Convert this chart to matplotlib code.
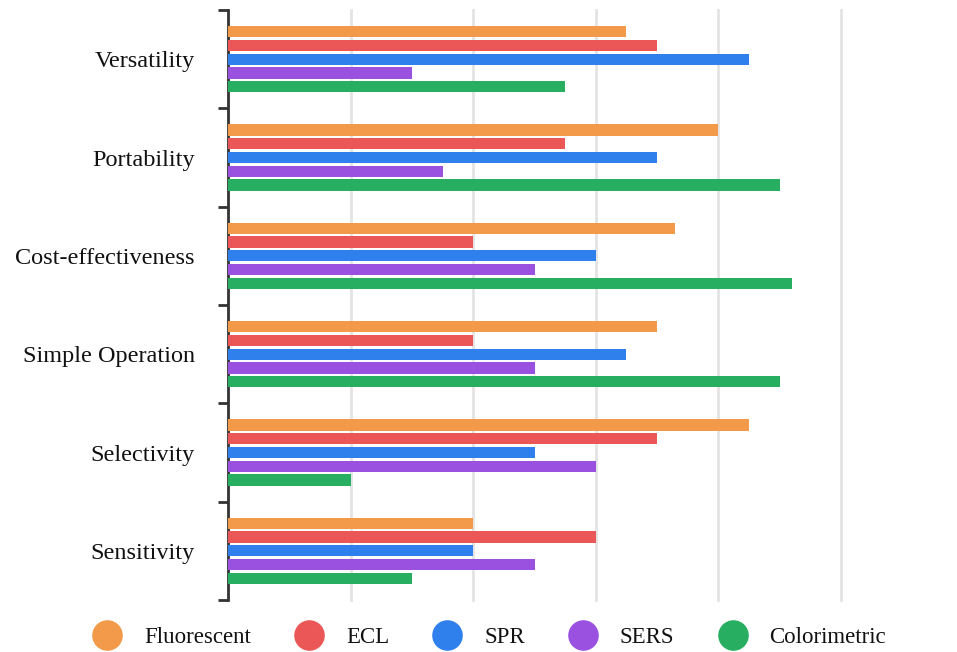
import matplotlib
matplotlib.use("Agg")
import matplotlib.pyplot as plt
import numpy as np
from matplotlib.lines import Line2D

categories = ["Versatility", "Portability", "Cost-effectiveness",
              "Simple Operation", "Selectivity", "Sensitivity"]
methods = ["Fluorescent", "ECL", "SPR", "SERS", "Colorimetric"]

fluorescent = [3.25, 4.0, 3.65, 3.5, 4.25, 2.0]
ecl = [3.5, 2.75, 2.0, 2.0, 3.5, 3.0]
spr = [4.25, 3.5, 3.0, 3.25, 2.5, 2.0]
sers = [1.5, 1.75, 2.5, 2.5, 3.0, 2.5]
colorimetric = [2.75, 4.5, 4.6, 4.5, 1.0, 1.5]

colors = ["#F2994A", "#EB5757", "#2F80ED", "#9B51E0", "#27AE60"]

plt.rcParams["font.family"] = ["Liberation Serif", "DejaVu Serif"]

fig = plt.figure(figsize=(9.57, 6.52), dpi=100)
ax = fig.add_axes([228 / 957, 52 / 652, (841 - 228) / 957, 590 / 652])

series = [fluorescent, ecl, spr, sers, colorimetric]
y = np.arange(len(categories))
slot = 0.7 / len(series)
for i, (vals, c) in enumerate(zip(series, colors)):
    off = -0.35 + slot * (i + 0.5)
    ax.barh(y + off, vals, height=slot * 0.82, color=c, zorder=3)

ax.set_xlim(0, 5)
ax.set_ylim(len(categories) - 0.5, -0.5)
ax.set_xticks([1, 2, 3, 4, 5])
ax.tick_params(axis="x", length=0, labelbottom=False)
ax.grid(axis="x", color="#e3e3e3", linewidth=2, zorder=0)
for gl in ax.get_xgridlines():
    gl.set_clip_on(False)

ax.set_yticks(y)
ax.set_yticklabels(categories, fontsize=17.5, color="#111111")
ax.tick_params(axis="y", which="major", length=0, pad=24)
ax.set_yticks(np.arange(-0.5, len(categories)), minor=True)
ax.tick_params(axis="y", which="minor", length=7, width=2, color="#333333")

for s in ["top", "right", "bottom"]:
    ax.spines[s].set_visible(False)
ax.spines["left"].set_linewidth(2)
ax.spines["left"].set_color("#333333")

handles = [Line2D([], [], marker="o", linestyle="", markersize=21,
                  markerfacecolor=c, markeredgecolor=c) for c in colors]
fig.legend(handles, methods, loc="lower center", bbox_to_anchor=(0.507, -0.026),
           ncol=5, frameon=False, fontsize=16.5, handletextpad=0.6,
           columnspacing=1.55, labelcolor="#111111")

fig.savefig("out.png", dpi=100)
